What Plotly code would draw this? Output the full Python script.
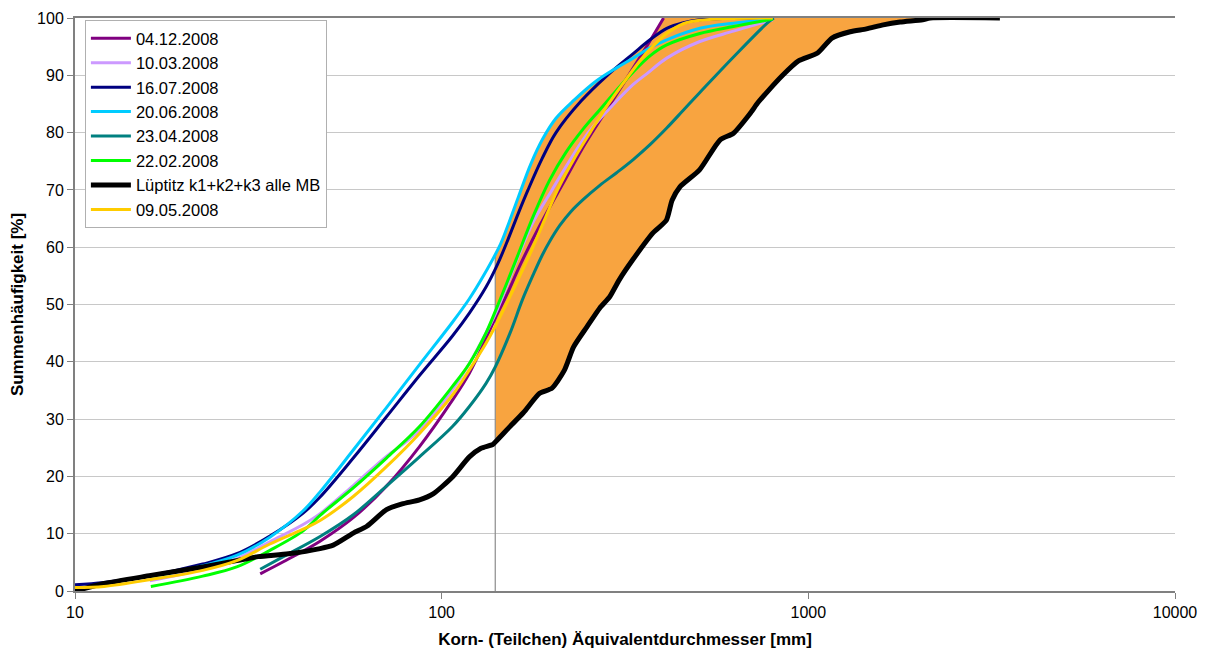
import numpy as np
import plotly.graph_objects as go

# ---- data ----
d_0412_x = [32, 37, 46.6, 57.4, 70.7, 87, 107, 119, 132, 140, 150, 164, 186, 218, 246, 282, 320, 362, 403]
d_0412_y = [3.0, 5.1, 8.7, 12.8, 18.3, 25.2, 33.3, 38.0, 44.0, 47.6, 51.5, 57.0, 64.0, 72.0, 78.0, 84.0, 89.5, 95.0, 100]

d_1003_x = [16, 22.3, 27.6, 34, 41.9, 46.6, 57.4, 70.7, 78, 87, 107, 119, 132, 140, 150, 162, 178, 200, 218, 251, 300, 333, 363, 411, 506, 625, 800]
d_1003_y = [1.8, 3.8, 5.6, 8.6, 11.6, 13.5, 18.4, 23.5, 25.5, 28.1, 35.1, 39.7, 45.0, 48.3, 53.0, 58.5, 64.5, 70.0, 74.0, 80.0, 85.5, 88.4, 90.3, 93.0, 95.9, 97.7, 99.7]

d_1607_x = [10, 12, 16.1, 22.3, 27.6, 34, 41.9, 46.6, 57.4, 70.7, 87, 107, 119, 132, 142, 152, 162, 172, 188, 205, 240, 283, 333, 370, 411, 456, 506, 800]
d_1607_y = [1.1, 1.5, 2.7, 4.7, 6.5, 9.6, 13.6, 16.4, 23.2, 30.4, 37.6, 44.5, 48.5, 53.0, 57.0, 61.5, 66.0, 70.0, 75.5, 80.0, 85.5, 90.0, 93.8, 96.2, 98.2, 99.2, 99.7, 100]

d_2006_x = [16.1, 22.3, 27.6, 34, 41.9, 46.6, 57.4, 70.7, 87, 107, 119, 130, 144.6, 153, 162, 175, 189, 205, 230, 264, 300, 333, 370, 411, 506, 625, 800]
d_2006_y = [2.4, 4.4, 6.2, 9.4, 14.0, 17.3, 24.6, 32.0, 39.5, 46.9, 51.0, 55.0, 60.5, 64.5, 68.8, 74.5, 79.0, 82.5, 85.7, 89.0, 91.3, 93.0, 94.8, 96.2, 98.2, 99.1, 99.8]

d_2304_x = [32, 37, 46.6, 57.4, 70.7, 87, 107, 119, 132, 140, 153.6, 166, 178, 188, 197, 210, 225, 243, 270, 300, 333, 370, 411, 456, 506, 625, 772, 805]
d_2304_y = [3.8, 6.0, 9.5, 13.3, 18.3, 23.4, 28.7, 32.2, 36.2, 39.1, 45.0, 50.8, 55.3, 58.6, 61.0, 63.8, 66.2, 68.3, 70.8, 73.0, 75.3, 77.9, 80.8, 83.9, 87.0, 93.2, 99.1, 100]

d_2202_x = [16.1, 22.3, 27.6, 34, 41.9, 46.6, 57.4, 70.7, 87, 107, 119, 132, 140, 150, 160, 178, 197, 218, 243, 270, 300, 333, 370, 411, 506, 625, 800]
d_2202_y = [0.8, 2.6, 4.2, 7.1, 10.5, 13.2, 18.0, 23.2, 28.7, 35.7, 39.7, 45.0, 48.8, 53.5, 58.0, 65.5, 71.7, 76.5, 80.6, 84.0, 87.4, 90.6, 93.4, 95.3, 97.3, 98.5, 99.8]

lueptitz_x = [10, 12, 16.1, 22.3, 27.6, 31.6, 38.2, 46.6, 50.6, 57.4, 62.5, 70.7, 78, 87, 95, 107, 119, 128, 138, 142, 153, 167, 185, 200, 216, 229, 249, 270, 287, 305, 332, 377, 410, 425, 446, 505, 574, 625, 695, 728, 775, 851, 940, 1060, 1160, 1300, 1440, 1600, 1780, 2050, 2150, 3330]
lueptitz_y = [0.0, 1.3, 2.7, 4.2, 5.3, 6.0, 6.5, 7.4, 8.0, 10.1, 11.3, 14.2, 15.2, 15.9, 17.0, 19.9, 23.4, 24.9, 25.6, 26.4, 28.6, 31.1, 34.5, 35.4, 38.5, 42.6, 46.1, 49.4, 51.3, 54.3, 57.8, 62.5, 64.7, 68.2, 70.5, 73.5, 78.7, 79.9, 83.4, 85.2, 87.2, 90.0, 92.5, 93.9, 96.5, 97.6, 98.1, 98.8, 99.3, 99.7, 100, 100]

d_0905_x = [10, 12, 16.1, 22.3, 27.6, 34, 41.9, 46.6, 57.4, 70.7, 87, 107, 119, 132, 140, 160, 176, 190, 207, 230, 254, 285, 320, 350, 380, 411, 456, 506, 800]
d_0905_y = [0.6, 0.8, 2.0, 3.6, 5.3, 8.2, 10.8, 12.3, 16.5, 21.7, 27.5, 34.2, 38.6, 43.2, 46.2, 53.8, 59.5, 64.5, 70.0, 75.5, 80.0, 85.0, 89.5, 92.8, 95.3, 97.3, 99.0, 99.6, 100]

series = [
    ("04.12.2008", d_0412_x, d_0412_y, "#800080", 3),
    ("10.03.2008", d_1003_x, d_1003_y, "#CC99FF", 3),
    ("16.07.2008", d_1607_x, d_1607_y, "#000080", 3),
    ("20.06.2008", d_2006_x, d_2006_y, "#00CCFF", 3),
    ("23.04.2008", d_2304_x, d_2304_y, "#008080", 3),
    ("22.02.2008", d_2202_x, d_2202_y, "#00FF00", 3),
    ("Lüptitz k1+k2+k3 alle MB", lueptitz_x, lueptitz_y, "#000000", 5),
    ("09.05.2008", d_0905_x, d_0905_y, "#FFCC00", 3),
]

cut_x = 140  # vertical marker line

x_ticks = [10, 100, 1000, 10000]
y_ticks = [0, 10, 20, 30, 40, 50, 60, 70, 80, 90, 100]

# ---- shaded band: between the upper envelope of samples and the Lüptitz curve ----
def interp_log(xq, xs, ys):
    return np.interp(np.log10(xq), np.log10(xs), ys, left=ys[0], right=ys[-1])

samples = [s for s in series if not s[0].startswith("Lüptitz")]
xg = np.logspace(np.log10(cut_x), np.log10(lueptitz_x[-2]), 600)
upper = np.max([interp_log(xg, s[1], s[2]) for s in samples], axis=0)
upper = np.minimum(upper, 100)
lower = interp_log(xg, lueptitz_x, lueptitz_y)

fig = go.Figure()
fig.add_trace(go.Scatter(
    x=np.concatenate([xg, xg[::-1]]),
    y=np.concatenate([upper, lower[::-1]]),
    fill="toself", fillcolor="#F8A440", line=dict(width=0),
    mode="lines", showlegend=False, hoverinfo="skip"))

fig.add_trace(go.Scatter(
    x=[cut_x, cut_x], y=[0, float(upper[0])], mode="lines",
    line=dict(color="#8C8C8C", width=1.2), showlegend=False, hoverinfo="skip"))

for name, xs, ys, col, w in series:
    sm = 0.6 if w > 3 else 1.0
    fig.add_trace(go.Scatter(
        x=xs, y=ys, name=name, mode="lines",
        line=dict(color=col, width=w, shape="spline", smoothing=sm)))

font_family = "Liberation Sans, Arial, sans-serif"
fig.update_layout(
    width=1195, height=641,
    margin=dict(l=67, r=28, t=10, b=58, autoexpand=False),
    paper_bgcolor="white", plot_bgcolor="white",
    font=dict(family=font_family, size=16, color="#000000"),
    xaxis=dict(
        type="log", range=[1, 4], tickvals=x_ticks, ticktext=[str(v) for v in x_ticks],
        showgrid=False, zeroline=False, showline=True, mirror=True,
        linecolor="#808080", linewidth=2, automargin=False,
        ticks="outside", ticklen=6, tickcolor="#808080",
        tickfont=dict(size=16),
        title=dict(text="<b>Korn- (Teilchen) Äquivalentdurchmesser [mm]</b>", font=dict(size=17), standoff=19),
    ),
    yaxis=dict(
        range=[0, 100], tickvals=y_ticks, showgrid=True, gridcolor="#C8C8C8", gridwidth=1,
        zeroline=False, showline=True, linecolor="#808080", linewidth=2, automargin=False,
        ticks="outside", ticklen=6, tickcolor="#808080",
        tickfont=dict(size=16),
        title=dict(text="<b>Summenhäufigkeit [%]</b>", font=dict(size=17), standoff=12),
    ),
    legend=dict(
        x=0.009, y=0.9965, xanchor="left", yanchor="top",
        bgcolor="white", bordercolor="#B0B0B0", borderwidth=1,
        font=dict(size=16.5), itemwidth=40, tracegroupgap=0,
    ),
    showlegend=True,
)

fig.write_html("out.html")
